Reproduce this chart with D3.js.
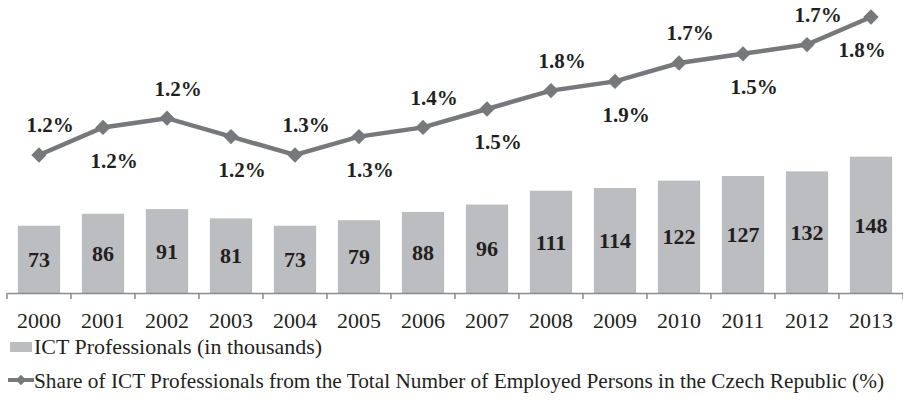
<!DOCTYPE html>
<html><head><meta charset="utf-8">
<script src="https://cdn.jsdelivr.net/npm/d3@7"></script>
<style>html,body{margin:0;padding:0;background:#fff;}svg{display:block;}</style>
</head><body>
<svg id="chart" width="903" height="416"></svg>
<script>
const years = ["2000","2001","2002","2003","2004","2005","2006","2007","2008","2009","2010","2011","2012","2013"];
const professionals = [73, 86, 91, 81, 73, 79, 88, 96, 111, 114, 122, 127, 132, 148];
const shareValues = [1.20, 1.35, 1.40, 1.30, 1.20, 1.30, 1.35, 1.45, 1.55, 1.60, 1.70, 1.75, 1.80, 1.95];
const shareLabels = ["1.2%","1.2%","1.2%","1.2%","1.3%","1.3%","1.4%","1.5%","1.8%","1.9%","1.7%","1.5%","1.7%","1.8%"];
const labelSide = ["above","below","above","below","above","below","above","below","above","below","above","below","above","below"];
const legendBar = "ICT Professionals (in thousands)";
const legendLine = "Share of ICT Professionals from the Total Number of Employed Persons in the Czech Republic (%)";

const cv = document.createElement("canvas").getContext("2d");
function w(f){ cv.font = "40px " + f; return cv.measureText("ICT Professionals 2000 mwi").width; }
const candidates = ["Liberation Serif","Tinos","Times New Roman","DejaVu Serif","Noto Serif","FreeSerif"];
let serif = "serif";
for (const c of candidates) {
  const a = w(`"${c}", monospace`), b = w("monospace");
  const a2 = w(`"${c}", sans-serif`), b2 = w("sans-serif");
  if (a !== b || a2 !== b2) { serif = `"${c}", serif`; break; }
}

const svg = d3.select("#chart").attr("font-family", serif);
const W = 903;
const axisY = 293;

const x = d3.scaleBand().domain(years).range([7, 903]).paddingInner(0.34).paddingOuter(0.17);
const y = d3.scaleLinear().domain([0, 318]).range([axisY, 0]);
const y2 = d3.scaleLinear().domain([1, 2]).range([191.8, 7.8]);

svg.append("g").selectAll("rect").data(professionals).join("rect")
  .attr("x", (d,i) => x(years[i]))
  .attr("y", d => y(d))
  .attr("width", x.bandwidth())
  .attr("height", d => axisY - y(d))
  .attr("fill", "#bcbdc0");

svg.append("g").selectAll("text").data(professionals).join("text")
  .attr("x", (d,i) => x(years[i]) + x.bandwidth()/2)
  .attr("y", d => (y(d) + axisY)/2)
  .attr("dy", "0.35em")
  .attr("text-anchor", "middle")
  .attr("font-weight", "bold").attr("font-size", 22)
  .attr("fill", "#231f20")
  .text(d => d);

const xAxis = d3.axisBottom(x).tickSize(0).tickPadding(0);
const ax = svg.append("g").attr("transform", `translate(0,${axisY})`).call(xAxis);
ax.attr("font-family", serif);
ax.select(".domain").attr("stroke", "#8a8b8d").attr("stroke-width", 1.5);
ax.selectAll("text").attr("font-size", 22).attr("fill", "#231f20").attr("dy", null).attr("y", 35);
const bounds = years.map(d => x(d) - x.step()*x.paddingInner()/2).concat([903]);
ax.append("g").selectAll("line").data(bounds).join("line")
  .attr("x1", d => d).attr("x2", d => d).attr("y1", 0).attr("y2", 6)
  .attr("stroke", "#8a8b8d").attr("stroke-width", 1.5);

const cx = i => x(years[i]) + x.bandwidth()/2;
const lineGen = d3.line().x((d,i) => cx(i)).y(d => y2(d));
svg.append("path").datum(shareValues).attr("d", lineGen)
  .attr("fill", "none").attr("stroke", "#77787b").attr("stroke-width", 4.5);
const diamond = d3.symbol().type(d3.symbolDiamond2).size(150);
svg.append("g").selectAll("path").data(shareValues).join("path")
  .attr("d", diamond)
  .attr("transform", (d,i) => `translate(${cx(i)},${y2(d)})`)
  .attr("fill", "#77787b");

svg.append("g").selectAll("text").data(shareValues).join("text")
  .attr("font-weight", "bold").attr("font-size", 21)
  .attr("fill", "#231f20").attr("text-anchor", "middle").attr("dy", "0.35em")
  .attr("x", (d,i) => Math.min(cx(i) + 11, W - 41))
  .attr("y", (d,i) => y2(d) + (labelSide[i] === "above" ? -30 : 33))
  .text((d,i) => shareLabels[i]);

const lg = svg.append("g");
lg.append("rect").attr("x", 10).attr("y", 342).attr("width", 22).attr("height", 10).attr("fill", "#bcbdc0");
lg.append("text").attr("x", 34).attr("y", 347).attr("dy", "0.35em")
  .attr("font-size", 21).attr("fill", "#231f20")
  .attr("textLength", 288).attr("lengthAdjust", "spacingAndGlyphs").text(legendBar);
lg.append("line").attr("x1", 8).attr("x2", 34).attr("y1", 380).attr("y2", 380)
  .attr("stroke", "#77787b").attr("stroke-width", 4);
lg.append("path").attr("d", d3.symbol().type(d3.symbolDiamond2).size(70)).attr("transform", "translate(21,380)").attr("fill", "#77787b");
lg.append("text").attr("x", 34).attr("y", 381).attr("dy", "0.35em")
  .attr("font-size", 21).attr("fill", "#231f20")
  .attr("textLength", 850).attr("lengthAdjust", "spacingAndGlyphs").text(legendLine);
</script>
</body></html>
